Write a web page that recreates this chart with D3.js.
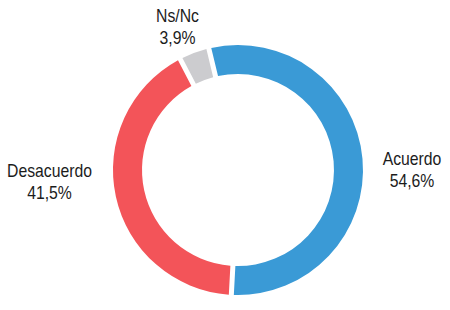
<!DOCTYPE html>
<html>
<head>
<meta charset="utf-8">
<script src="https://cdn.jsdelivr.net/npm/d3@7"></script>
<style>
  body { margin: 0; background: #fff; }
  text { font-family: "Liberation Sans", Arial, sans-serif; fill: #1c1c1c; }
</style>
</head>
<body>
<div id="chart"></div>
<script>
// survey answers, clockwise from just left of 12 o'clock
let categories = ["Acuerdo", "Desacuerdo", "Ns/Nc"];
let values = [54.6, 41.5, 3.9];
let valueLabels = ["54,6%", "41,5%", "3,9%"];
let colors = ["#3A9AD6", "#F35459", "#CCCCCF"];

let width = 450;
let height = 310;
let cx = 238, cy = 170;
let outerR = 125, innerR = 96;

// where each label block sits, relative to the donut centre
let labelOffset = {
  "Acuerdo": [174, -5],
  "Desacuerdo": [-188.5, 7],
  "Ns/Nc": [-60.5, -148]
};

let svg = d3.select("#chart")
  .append("svg")
  .attr("width", width)
  .attr("height", height);

let g = svg.append("g").attr("transform", `translate(${cx},${cy})`);

let data = categories.map((c, i) => ({ name: c, value: values[i], label: valueLabels[i], color: colors[i] }));

let startAngle = -13.5 * Math.PI / 180;

let pie = d3.pie()
  .sort(null)
  .value(d => d.value)
  .startAngle(startAngle)
  .endAngle(startAngle + 2 * Math.PI);

let arc = d3.arc()
  .innerRadius(innerR)
  .outerRadius(outerR)
  .padAngle(0.05)
  .padRadius(100);

g.selectAll("path")
  .data(pie(data))
  .join("path")
  .attr("d", arc)
  .attr("fill", d => d.data.color);

// condensed look: squeeze the regular sans horizontally
let labels = g.selectAll("g.label")
  .data(data)
  .join("g")
  .attr("class", "label")
  .attr("transform", d => `translate(${labelOffset[d.name][0]},${labelOffset[d.name][1]}) scale(0.83,1)`);

labels.append("text")
  .attr("text-anchor", "middle")
  .attr("font-size", 19)
  .attr("y", 0)
  .text(d => d.name);

labels.append("text")
  .attr("text-anchor", "middle")
  .attr("font-size", 19)
  .attr("y", 22.5)
  .text(d => d.label);
</script>
</body>
</html>
